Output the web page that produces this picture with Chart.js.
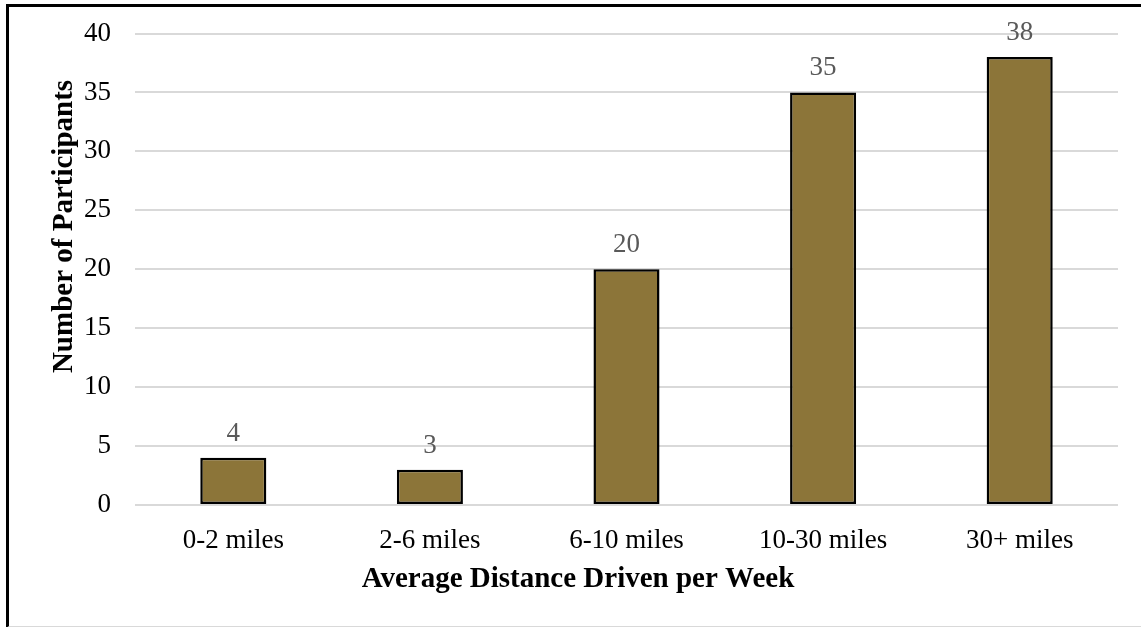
<!DOCTYPE html>
<html>
<head>
<meta charset="utf-8">
<script src="https://cdn.jsdelivr.net/npm/chart.js@4/dist/chart.umd.min.js"></script>
<style>
  html, body { margin: 0; padding: 0; background: #ffffff; }
  #wrap { position: relative; width: 1141px; height: 627px; overflow: hidden; }
  #frame {
    position: absolute; left: 6px; top: 4px; width: 1140px; height: 619px;
    border-left: 3px solid #000; border-top: 3px solid #000; border-bottom: 2px solid #d9d9d9;
    box-sizing: content-box; pointer-events: none;
  }
  canvas { position: absolute; left: 0; top: 0; }
</style>
</head>
<body>
<div id="wrap">
  <canvas id="chart" width="1141" height="627"></canvas>
  <div id="frame"></div>
</div>
<script>
// Participants grouped by average weekly driving distance
const categories = ['0-2 miles', '2-6 miles', '6-10 miles', '10-30 miles', '30+ miles'];
const participants = [4, 3, 20, 35, 38];
const yTicks = [0, 5, 10, 15, 20, 25, 30, 35, 40];
const xTitle = 'Average Distance Driven per Week';
const yTitle = 'Number of Participants';

const SERIF = '"Liberation Serif", "Times New Roman", serif';

// Value labels above each bar plus the two axis titles
const annotate = {
  id: 'annotate',
  afterDatasetsDraw(chart) {
    const ctx = chart.ctx;
    const meta = chart.getDatasetMeta(0);
    ctx.save();
    ctx.font = '27px ' + SERIF;
    ctx.fillStyle = '#595959';
    ctx.textAlign = 'center';
    ctx.textBaseline = 'alphabetic';
    meta.data.forEach((bar, i) => {
      ctx.fillText(String(participants[i]), bar.x, bar.y - 17);
    });
    ctx.fillStyle = '#000000';
    ctx.font = 'bold 29px ' + SERIF;
    ctx.fillText(xTitle, 578, 587);
    ctx.translate(72, 226.5);
    ctx.rotate(-Math.PI / 2);
    ctx.fillText(yTitle, 0, 0);
    ctx.restore();
  }
};

new Chart(document.getElementById('chart'), {
  type: 'bar',
  data: {
    labels: categories,
    datasets: [{
      data: participants,
      backgroundColor: '#8c7539',
      borderColor: '#000000',
      borderWidth: 2.5,
      borderSkipped: false,
      categoryPercentage: 1,
      barPercentage: 0.336
    }]
  },
  options: {
    responsive: false,
    animation: false,
    devicePixelRatio: 1,
    layout: { padding: { top: 33.5, right: 23, bottom: 0, left: 0 } },
    plugins: { legend: { display: false }, tooltip: { enabled: false } },
    scales: {
      x: {
        grid: { display: false },
        border: { display: false },
        ticks: {
          color: '#000000',
          font: { family: SERIF, size: 27 },
          padding: 12,
          maxRotation: 0
        },
        afterFit(scale) { scale.height = 122; }
      },
      y: {
        min: 0,
        max: 40,
        afterBuildTicks(scale) { scale.ticks = yTicks.map(v => ({ value: v })); },
        grid: { color: '#d9d9d9', lineWidth: 2, drawTicks: false },
        border: { display: false },
        ticks: {
          color: '#000000',
          font: { family: SERIF, size: 27 },
          padding: 24
        },
        afterFit(scale) {
          scale.width = 135;
          scale.paddingTop = 0;
          scale.paddingBottom = 0;
        }
      }
    }
  },
  plugins: [annotate]
});
</script>
</body>
</html>
